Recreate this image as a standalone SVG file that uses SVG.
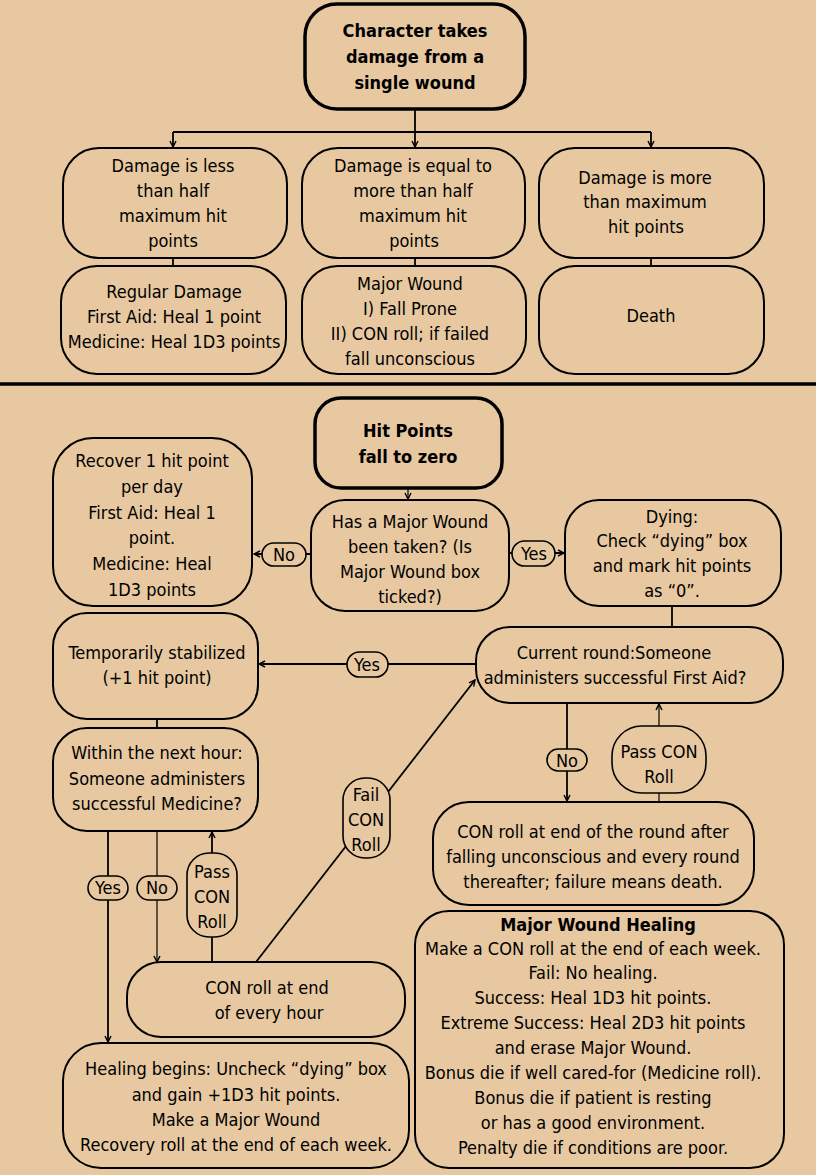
<svg xmlns="http://www.w3.org/2000/svg" width="816" height="1175" viewBox="0 0 816 1175">
<defs>
<marker id="ar" markerUnits="userSpaceOnUse" markerWidth="8" markerHeight="8" refX="7" refY="4" orient="auto">
<path d="M1,1 L7,4 L1,7" fill="none" stroke="#000" stroke-width="1.4"/>
</marker>
</defs>
<style>
text{font-family:"DejaVu Sans Condensed","DejaVu Sans",sans-serif;font-stretch:condensed;font-size:18px;fill:#000;text-anchor:middle;dominant-baseline:central}
.b{font-weight:bold}
.box{fill:none;stroke:#000;stroke-width:2}
.tb{fill:none;stroke:#000;stroke-width:3.5}
.pill{fill:#e7c8a0;stroke:#000;stroke-width:1.6}
.c{fill:none;stroke:#000;stroke-width:1.8}
.t{fill:none;stroke:#000;stroke-width:1.2}
</style>
<rect width="816" height="1175" fill="#e7c8a0"/>
<g id="connectors">
<path class="c" d="M415,109 V132 M173,132 H651" />
<path class="c" d="M173,132 V147" marker-end="url(#ar)"/>
<path class="c" d="M415,132 V147" marker-end="url(#ar)"/>
<path class="c" d="M651,132 V147" marker-end="url(#ar)"/>
<path class="c" d="M173,258 V266 M415,258 V266 M651,258 V266"/>
<path d="M0,384 H816" stroke="#000" stroke-width="3.5"/>
<path class="t" d="M408,488 V499" marker-end="url(#ar)"/>
<path class="c" d="M311,554 H254" marker-end="url(#ar)"/>
<path class="c" d="M509,553 H564" marker-end="url(#ar)"/>
<path class="c" d="M672,606 V627"/>
<path class="c" d="M476,664 H259" marker-end="url(#ar)"/>
<path class="c" d="M157,719 V728"/>
<path class="c" d="M108,831 V1042" marker-end="url(#ar)"/>
<path class="t" d="M157,831 V962" marker-end="url(#ar)"/>
<path class="c" d="M212,962 V832" marker-end="url(#ar)"/>
<path class="c" d="M256,962 L475,680" marker-end="url(#ar)"/>
<path class="c" d="M567,703 V801" marker-end="url(#ar)"/>
<path class="t" d="M659,802 V704" marker-end="url(#ar)"/>
</g>
<g id="n1"><rect class="tb" x="305" y="4" width="220" height="105" rx="32"/>
<text class="b" x="415" y="30">Character takes</text><text class="b" x="415" y="56">damage from a</text><text class="b" x="415" y="82">single wound</text></g>
<g id="n2"><rect class="box" x="63" y="148" width="224" height="110" rx="36"/>
<text x="173" y="165">Damage is less</text><text x="173" y="190">than half</text><text x="173" y="215">maximum hit</text><text x="173" y="240">points</text></g>
<g id="n3"><rect class="box" x="302" y="148" width="223" height="110" rx="36"/>
<text x="413" y="165">Damage is equal to</text><text x="413" y="190">more than half</text><text x="413" y="215">maximum hit</text><text x="414" y="240">points</text></g>
<g id="n4"><rect class="box" x="539" y="148" width="225" height="110" rx="36"/>
<text x="645" y="177">Damage is more</text><text x="645" y="201">than maximum</text><text x="646" y="226">hit points</text></g>
<g id="n5"><rect class="box" x="61" y="266" width="225" height="108" rx="36"/>
<text x="174" y="291">Regular Damage</text><text x="174" y="316">First Aid: Heal 1 point</text><text x="174" y="341">Medicine: Heal 1D3 points</text></g>
<g id="n6"><rect class="box" x="302" y="266" width="224" height="108" rx="36"/>
<text x="410" y="283">Major Wound</text><text x="410" y="308">I) Fall Prone</text><text x="410" y="333">II) CON roll; if failed</text><text x="410" y="358">fall unconscious</text></g>
<g id="n7"><rect class="box" x="539" y="266" width="225" height="108" rx="36"/>
<text x="651" y="315">Death</text></g>
<g id="n8"><rect class="tb" x="315" y="398" width="187" height="90" rx="26"/>
<text class="b" x="408" y="430">Hit Points</text><text class="b" x="408" y="456">fall to zero</text></g>
<g id="n9"><rect class="box" x="311" y="500" width="198" height="111" rx="34"/>
<text x="410" y="521">Has a Major Wound</text><text x="410" y="546">been taken? (Is</text><text x="410" y="571">Major Wound box</text><text x="410" y="596">ticked?)</text></g>
<g id="n10"><rect class="box" x="53" y="438" width="199" height="168" rx="40"/>
<text x="152" y="460">Recover 1 hit point</text><text x="152" y="486">per day</text><text x="152" y="512">First Aid: Heal 1</text><text x="152" y="537">point.</text><text x="152" y="563">Medicine: Heal</text><text x="152" y="589">1D3 points</text></g>
<g id="n11"><rect class="box" x="565" y="500" width="216" height="106" rx="34"/>
<text x="672" y="516">Dying:</text><text x="672" y="540">Check “dying” box</text><text x="672" y="565">and mark hit points</text><text x="672" y="590">as “0”.</text></g>
<g id="n12"><rect class="box" x="476" y="627" width="307" height="76" rx="34"/>
<text x="614" y="652">Current round:Someone</text><text x="615" y="677">administers successful First Aid?</text></g>
<g id="n13"><rect class="box" x="53" y="613" width="205" height="106" rx="34"/>
<text x="157" y="652">Temporarily stabilized</text><text x="157" y="677">(+1 hit point)</text></g>
<g id="n14"><rect class="box" x="53" y="728" width="205" height="103" rx="34"/>
<text x="157" y="752">Within the next hour:</text><text x="157" y="778">Someone administers</text><text x="157" y="803">successful Medicine?</text></g>
<g id="n15"><rect class="box" x="127" y="962" width="278" height="75" rx="34"/>
<text x="267" y="987">CON roll at end</text><text x="269" y="1012">of every hour</text></g>
<g id="n16"><rect class="box" x="433" y="802" width="321" height="103" rx="36"/>
<text x="593" y="831">CON roll at end of the round after</text><text x="593" y="856">falling unconscious and every round</text><text x="593" y="881">thereafter; failure means death.</text></g>
<g id="n17"><rect class="box" x="415" y="911" width="369" height="257" rx="34"/>
<text class="b" x="598" y="924">Major Wound Healing</text>
<text x="593" y="948">Make a CON roll at the end of each week.</text>
<text x="593" y="972">Fail: No healing.</text>
<text x="593" y="997">Success: Heal 1D3 hit points.</text>
<text x="593" y="1022">Extreme Success: Heal 2D3 hit points</text>
<text x="593" y="1047">and erase Major Wound.</text>
<text x="593" y="1072">Bonus die if well cared-for (Medicine roll).</text>
<text x="593" y="1097">Bonus die if patient is resting</text>
<text x="593" y="1122">or has a good environment.</text>
<text x="593" y="1147">Penalty die if conditions are poor.</text></g>
<g id="n18"><rect class="box" x="63" y="1043" width="346" height="125" rx="38"/>
<text x="236" y="1068">Healing begins: Uncheck “dying” box</text><text x="236" y="1094">and gain +1D3 hit points.</text><text x="236" y="1119">Make a Major Wound</text><text x="236" y="1144">Recovery roll at the end of each week.</text></g>
<g id="labels">
<g id="l1"><rect class="pill" x="262" y="543" width="44" height="23" rx="11.5"/><text x="284" y="554">No</text></g>
<g id="l2"><rect class="pill" x="512" y="541" width="43" height="25" rx="12.5"/><text x="534" y="553">Yes</text></g>
<g id="l3"><rect class="pill" x="347" y="652" width="41" height="25" rx="12.5"/><text x="367" y="664">Yes</text></g>
<g id="l4"><rect class="pill" x="88" y="876" width="40" height="24" rx="12"/><text x="108" y="887">Yes</text></g>
<g id="l5"><rect class="pill" x="137" y="876" width="40" height="24" rx="12"/><text x="157" y="887">No</text></g>
<g id="l6"><rect class="pill" x="187" y="853" width="50" height="84" rx="22"/><text x="212" y="871">Pass</text><text x="212" y="896">CON</text><text x="212" y="921">Roll</text></g>
<g id="l7"><rect class="pill" x="343" y="778" width="47" height="80" rx="22"/><text x="366" y="794">Fail</text><text x="366" y="819">CON</text><text x="366" y="844">Roll</text></g>
<g id="l8"><rect class="pill" x="547" y="749" width="40" height="22" rx="11"/><text x="567" y="760">No</text></g>
<g id="l9"><rect class="pill" x="612" y="726" width="94" height="67" rx="30"/><text x="659" y="751">Pass CON</text><text x="659" y="776">Roll</text></g>
</g>
</svg>
